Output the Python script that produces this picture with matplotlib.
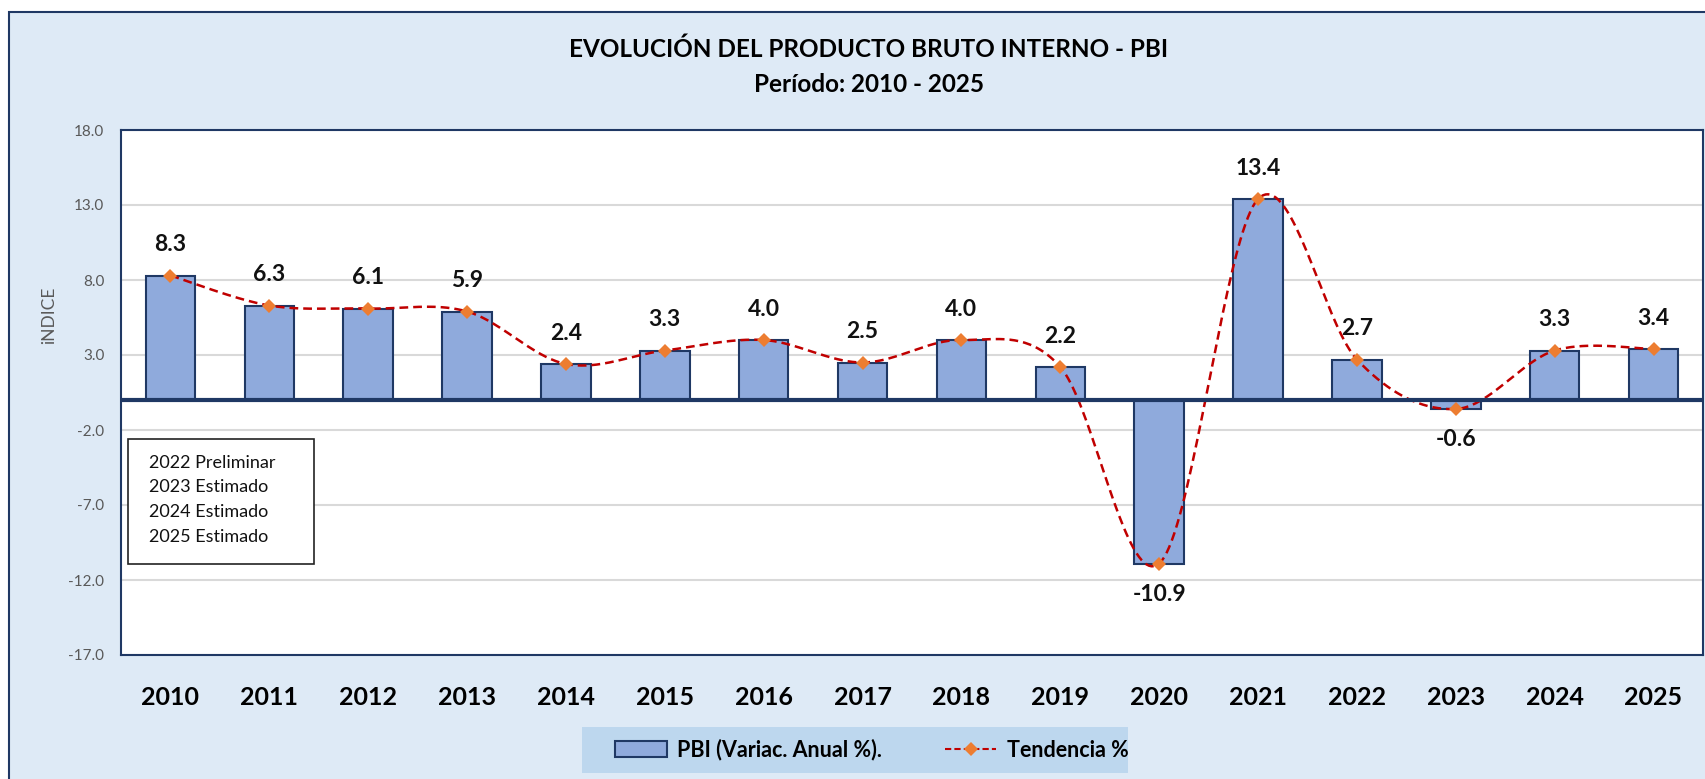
import numpy as np
import matplotlib
matplotlib.use("Agg")
from matplotlib import pyplot as plt
from matplotlib.patches import Rectangle
from matplotlib.lines import Line2D

# data
years = ["2010", "2011", "2012", "2013", "2014", "2015", "2016", "2017",
         "2018", "2019", "2020", "2021", "2022", "2023", "2024", "2025"]
pbi = [8.3, 6.3, 6.1, 5.9, 2.4, 3.3, 4.0, 2.5, 4.0, 2.2, -10.9, 13.4, 2.7, -0.6, 3.3, 3.4]
yticks = [-17.0, -12.0, -7.0, -2.0, 3.0, 8.0, 13.0, 18.0]
note_lines = ["2022 Preliminar", "2023 Estimado", "2024 Estimado", "2025 Estimado"]

title_1 = "EVOLUCIÓN DEL PRODUCTO BRUTO INTERNO - PBI"
title_2 = "Período: 2010 - 2025"

W, H = 1706, 779
BG = "#DEEAF6"
BAND = "#BDD7EE"
NAVY = "#1F3864"
BAR = "#8FAADC"
RED = "#C00000"
ORANGE = "#ED7D31"

plt.rcParams["font.family"] = ["Lato", "DejaVu Sans"]


def excel_smooth(x, y, n=40):
    # bezier smoothing like the spreadsheet "smoothed line" option
    x = np.asarray(x, float)
    y = np.asarray(y, float)
    px = np.concatenate([[x[0]], x, [x[-1]]])
    py = np.concatenate([[y[0]], y, [y[-1]]])
    t = np.linspace(0, 1, n)
    xs, ys = [], []
    for i in range(len(x) - 1):
        p0x, p0y = px[i + 1], py[i + 1]
        p3x, p3y = px[i + 2], py[i + 2]
        c1x = p0x + (px[i + 2] - px[i]) / 6
        c1y = p0y + (py[i + 2] - py[i]) / 6
        c2x = p3x - (px[i + 3] - px[i + 1]) / 6
        c2y = p3y - (py[i + 3] - py[i + 1]) / 6
        b0 = (1 - t) ** 3
        b1 = 3 * (1 - t) ** 2 * t
        b2 = 3 * (1 - t) * t ** 2
        b3 = t ** 3
        xs.append(b0 * p0x + b1 * c1x + b2 * c2x + b3 * p3x)
        ys.append(b0 * p0y + b1 * c1y + b2 * c2y + b3 * p3y)
    return np.concatenate(xs), np.concatenate(ys)


fig = plt.figure(figsize=(W / 100, H / 100), dpi=100, facecolor="white")
frame = Rectangle((9 / W, -0.1), 2, 1 - 12 / H + 0.1, transform=fig.transFigure,
                  facecolor=BG, edgecolor=NAVY, lw=1.5, zorder=-10)
fig.add_artist(frame)

ax = fig.add_axes([121 / W, 1 - 655 / H, (1703 - 121) / W, (655 - 130) / H])
ax.set_facecolor("white")

x = np.arange(len(years))
ax.bar(x, pbi, width=0.5, color=BAR, edgecolor=NAVY, linewidth=1.5, zorder=3)

sx, sy = excel_smooth(x, pbi)
ax.plot(sx, sy, color=RED, linestyle=(0, (3.5, 2)), linewidth=1.8, zorder=4)
ax.plot(x, pbi, linestyle="none", marker="D", markersize=7, color=ORANGE,
        markeredgewidth=0, zorder=5)

ax.axhline(0, color=NAVY, linewidth=3, zorder=6)

for xi, v in zip(x, pbi):
    off = 22 if v >= 0 else -22
    ax.annotate(f"{v:.1f}", (xi, v), xytext=(0, off), textcoords="offset points",
                ha="center", va="center", fontsize=16.5, fontweight="bold",
                color="#111111", zorder=7)

ax.set_xlim(-0.5, len(years) - 0.5)
ax.set_ylim(-17, 18)
ax.set_yticks(yticks)
ax.set_yticklabels([f"{v:.1f}" for v in yticks])
ax.set_xticks(x)
ax.set_xticklabels(years)
ax.tick_params(axis="y", length=0, pad=12, labelsize=11, labelcolor="#595959")
ax.tick_params(axis="x", length=0, pad=22, labelsize=18)
for lbl in ax.get_xticklabels():
    lbl.set_fontweight("bold")
ax.grid(axis="y", color="#D9D9D9", linewidth=1.5, zorder=0)
ax.set_axisbelow(True)
for sp in ax.spines.values():
    sp.set_color(NAVY)
    sp.set_linewidth(1.5)

fig.text(49 / W, 1 - 315 / H, "iNDICE", rotation=90, ha="center", va="center",
         fontsize=12.5, color="#595959")

fig.text(869 / W, 1 - 49 / H, title_1, ha="center", va="center",
         fontsize=17.5, fontweight="bold")
fig.text(869 / W, 1 - 85 / H, title_2, ha="center", va="center",
         fontsize=17.5, fontweight="bold")

# note box
note = Rectangle((128 / W, 1 - 564 / H), (314 - 128) / W, (564 - 439) / H,
                 transform=fig.transFigure, facecolor="white", edgecolor="#222222",
                 lw=1.2, zorder=20)
fig.add_artist(note)
for i, line in enumerate(note_lines):
    fig.text(149 / W, 1 - (463 + i * 24.5) / H, line, ha="left", va="center",
             fontsize=13, color="#111111", zorder=21)

# legend band
band = Rectangle((582 / W, 1 - 773 / H), (1128 - 582) / W, (773 - 727) / H,
                 transform=fig.transFigure, facecolor=BAND, edgecolor="none",
                 zorder=-5)
fig.add_artist(band)
handles = [Rectangle((0, 0), 1, 1, facecolor=BAR, edgecolor=NAVY, lw=1.5),
           Line2D([0], [0], color=RED, linestyle=(0, (3, 1.5)), linewidth=1.5,
                  marker="D", markersize=7, markerfacecolor=ORANGE,
                  markeredgewidth=0)]
leg = fig.legend(handles, ["PBI (Variac. Anual %).", "Tendencia %"],
                 loc="center", bbox_to_anchor=(872 / W, 1 - 750 / H), ncol=2,
                 frameon=False, prop={"weight": "bold", "size": 15.5},
                 handlelength=2.4, handleheight=0.75, columnspacing=2.9,
                 handletextpad=0.5, borderpad=0, borderaxespad=0)

fig.savefig("out.png", dpi=100, facecolor="white")
